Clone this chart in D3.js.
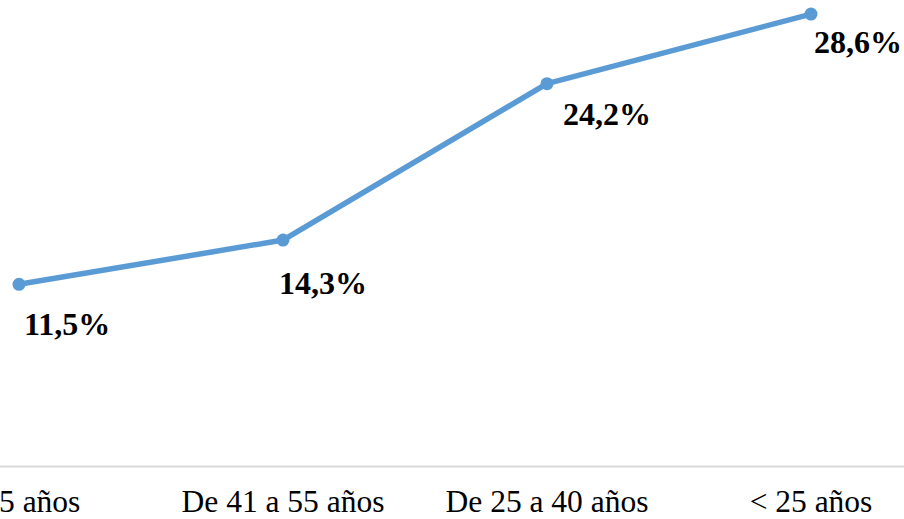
<!DOCTYPE html>
<html>
<head>
<meta charset="utf-8">
<script src="https://cdn.jsdelivr.net/npm/d3@7"></script>
<style>
  html, body { margin: 0; padding: 0; background: #fff; }
  svg { display: block; }
</style>
</head>
<body>
<svg id="chart" width="904" height="519"></svg>
<script>
// Data
const categories = ["> 55 años", "De 41 a 55 años", "De 25 a 40 años", "< 25 años"];
const values = [11.5, 14.3, 24.2, 28.6];
const valueLabels = ["11,5%", "14,3%", "24,2%", "28,6%"];

// Layout (label placement relative to each point, as in the original)
const labelOffsets = [[5, 51], [-4, 54], [16, 41], [3, 39]];

const svg = d3.select("#chart");

const x = d3.scaleBand().domain(categories).range([-113, 943]).padding(0);
const y = d3.scaleLinear().domain([0, 30]).range([466, -8]);
const cx = d => x(d) + x.bandwidth() / 2;

// X axis
const axis = svg.append("g")
  .attr("transform", `translate(0,${y(0)})`)
  .call(d3.axisBottom(x).tickSize(0).tickSizeOuter(0));
axis.select(".domain").attr("stroke", "#d9d9d9").attr("stroke-width", 2);
axis.selectAll("text")
  .attr("y", 46).attr("dy", 0)
  .attr("font-family", "'Liberation Serif', 'Times New Roman', serif")
  .attr("font-size", 31.5)
  .attr("fill", "#000");

// Line
const line = d3.line()
  .x((d, i) => cx(categories[i]))
  .y(d => y(d));
svg.append("path")
  .datum(values)
  .attr("fill", "none")
  .attr("stroke", "#5b9bd5")
  .attr("stroke-width", 5.5)
  .attr("stroke-linejoin", "round")
  .attr("d", line);

// Markers
svg.selectAll("circle.pt")
  .data(values)
  .join("circle")
  .attr("class", "pt")
  .attr("cx", (d, i) => cx(categories[i]))
  .attr("cy", d => y(d))
  .attr("r", 6.5)
  .attr("fill", "#5b9bd5");

// Data labels
svg.selectAll("text.lbl")
  .data(values)
  .join("text")
  .attr("class", "lbl")
  .attr("x", (d, i) => cx(categories[i]) + labelOffsets[i][0])
  .attr("y", (d, i) => y(d) + labelOffsets[i][1])
  .attr("font-family", "'Liberation Serif', 'Times New Roman', serif")
  .attr("font-weight", "bold")
  .attr("font-size", 32)
  .attr("fill", "#000")
  .text((d, i) => valueLabels[i]);
</script>
</body>
</html>
